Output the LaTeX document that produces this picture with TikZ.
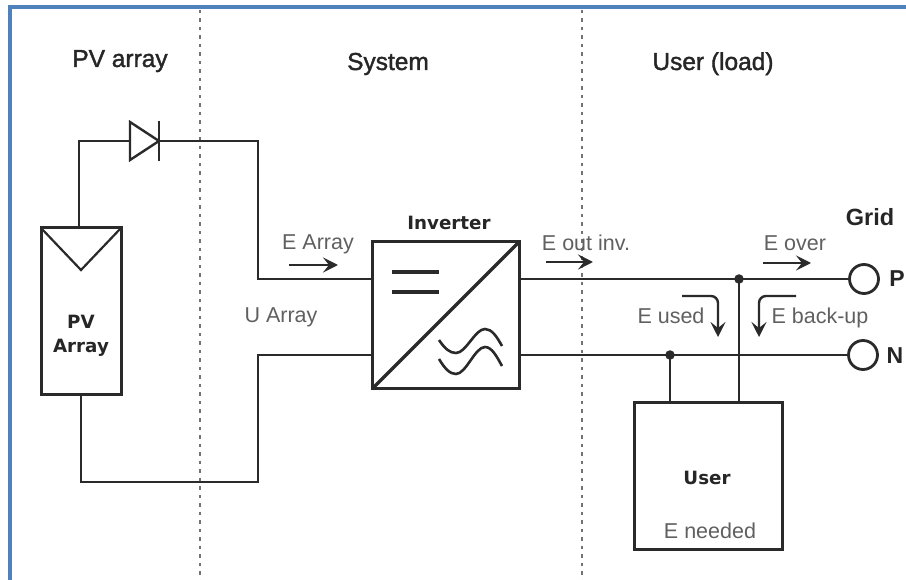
\documentclass[tikz,border=0pt]{standalone}
\usepackage{fontspec}
\setmainfont{Liberation Sans}
\newfontfamily\boldish{DejaVu Sans}[Scale=0.9]
\newfontfamily\medfont{Liberation Sans}[FakeBold=1.5]
\usetikzlibrary{arrows.meta,shapes.geometric}
\definecolor{frameblue}{HTML}{4F81BD}
\definecolor{wirec}{HTML}{2A2A2A}
\definecolor{lbl}{HTML}{606060}
\tikzset{
  wire/.style={draw=wirec,line width=2.8pt,line join=miter},
  thin wire/.style={draw=wirec,line width=2.2pt},
  divider/.style={draw=black!55,line width=2pt,dash pattern=on 3.5pt off 5pt},
  flow/.style={draw=wirec,line width=2.4pt,-{Stealth[length=15pt,width=15pt,inset=6pt]}},
  title/.style={font=\medfont\fontsize{24.5}{28}\selectfont,text=black!85,inner sep=0pt,anchor=base},
  lab/.style={font=\fontsize{21.5}{25}\selectfont,text=lbl,inner sep=0pt,anchor=base},
  blab/.style={font=\boldish\bfseries\fontsize{20.3}{24}\selectfont,text=black!85,inner sep=0pt,align=center,anchor=base},
  term/.style={circle,draw=wirec,line width=2.8pt,fill=white,minimum size=29pt,inner sep=0pt},
  joint/.style={circle,fill=wirec,minimum size=9.5pt,inner sep=0pt},
  blockbox/.style={rectangle,draw=wirec,line width=3pt,fill=none,inner sep=0pt,outer sep=0pt},
}
\begin{document}
\begin{tikzpicture}[x=1pt,y=-1pt]
\useasboundingbox (0,0) rectangle (906,580);
\fill[white] (0,0) rectangle (906,580);
% frame
\draw[frameblue,line width=4pt] (10,580) -- (10,7) -- (906,7);
% dividers
\coordinate (d1t) at (200,10); \coordinate (d1b) at (200,580);
\coordinate (d2t) at (582,10); \coordinate (d2b) at (582,580);
\draw[divider] (d1t) -- (d1b);
\draw[divider] (d2t) -- (d2b);
% titles
\node[title] (t1) at (120,67) {PV array};
\node[title] (t2) at (388,70) {System};
\node[title] (t3) at (713,70) {User (load)};
\node[title,font=\bfseries\fontsize{23.5}{28}\selectfont] (t4) at (870,226) {Grid};
% blocks
\node[blockbox,minimum width=80pt,minimum height=167pt] (pv) at (81,311.5) {};
\node[blockbox,minimum width=147pt,minimum height=147pt] (inv) at (445.5,315.5) {};
\node[blockbox,minimum width=148pt,minimum height=147pt] (usr) at (708,475.5) {};
\node[term] (P) at (864,279) {};
\node[term] (N) at (863,355) {};
\node[joint] (jp) at (739,279) {};
\node[joint] (jn) at (670,355) {};
% diode
\coordinate (da) at (130,141);
\coordinate (dk) at (159,141);
\draw[line width=2.4pt,draw=wirec,line join=miter] (da) -- (130,122) -- (dk) -- (130,160) -- cycle;
\draw[line width=2.8pt,draw=wirec] (159,121) -- (159,161);
% wires
\coordinate (w1) at (79,141);
\coordinate (w2) at (258,141);
\coordinate (w3) at (258,279);
\coordinate (w4) at (258,355);
\coordinate (w5) at (258,482);
\coordinate (w6) at (81,482);
\draw[wire] (pv.north -| w1) -- (w1) -- (da);
\draw[wire] (dk) -- (w2) -- (w3) -- (w3 -| inv.west);
\draw[wire] (pv.south -| w6) -- (w6) -- (w5) -- (w4) -- (w4 -| inv.west);
\draw[wire] (inv.east |- P) -- (P.west);
\draw[wire] (inv.east |- N) -- (N.west);
\draw[wire] (jp.center) -- (jp |- usr.north);
\draw[wire] (jn.center) -- (jn |- usr.north);
% PV symbol
\draw[thin wire] (pv.north west) -- (81,270) -- (pv.north east);
% inverter symbol
\draw[wire,line width=3.2pt] (inv.south west) -- (inv.north east);
\draw[draw=wirec,line width=3.6pt] (392,272) -- (439,272);
\draw[draw=wirec,line width=3.6pt] (392,292) -- (439,292);
\draw[thin wire,line width=2.6pt] (439,340) .. controls (445,349) and (450,353) .. (456,353) .. controls (466,353) and (475,329) .. (485,329) .. controls (492,329) and (497,337) .. (502,346);
\draw[thin wire,line width=2.6pt] (439,359) .. controls (445,369) and (450,374) .. (456,374) .. controls (466,374) and (475,347) .. (485,347) .. controls (492,347) and (497,357) .. (502,366);
% flow arrows
\coordinate (a1s) at (289,265); \coordinate (a1e) at (338,265);
\coordinate (a2s) at (546,262); \coordinate (a2e) at (593,262);
\coordinate (a3s) at (763,263); \coordinate (a3e) at (811,263);
\draw[flow] (a1s) -- (a1e);
\draw[flow] (a2s) -- (a2e);
\draw[flow] (a3s) -- (a3e);
\coordinate (a4s) at (682,296); \coordinate (a4e) at (718,337);
\draw[flow,rounded corners=7pt] (a4s) -- (718,296) -- (a4e);
\coordinate (a5s) at (796,296); \coordinate (a5e) at (759,337);
\draw[flow,rounded corners=7pt] (a5s) -- (759,296) -- (a5e);
% labels
\node[lab] (l1) at (318,250) {E Array};
\node[lab] (l2) at (281,323) {U Array};
\node[lab] (l3) at (586,251) {E out inv.};
\node[lab] (l4) at (795,251) {E over};
\node[lab] (l5) at (671,324) {E used};
\node[lab] (l6) at (820,324) {E back-up};
\node[lab] (l7) at (710,538) {E needed};
\node[blab] (l8) at (449,230) {Inverter};
\node[blab,anchor=center] (l9) at (81,336) {PV\\Array};
\node[blab] (l10) at (707,484) {User};
\node[title,font=\bfseries\fontsize{23}{28}\selectfont] (l11) at (897,287) {P};
\node[title,font=\bfseries\fontsize{23}{28}\selectfont] (l12) at (895,363) {N};
\end{tikzpicture}
\end{document}
